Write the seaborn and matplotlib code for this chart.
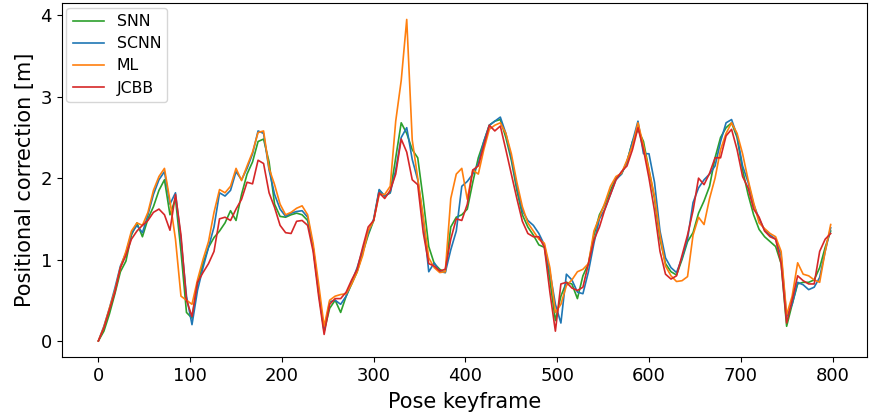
import numpy as np
import pandas as pd
import matplotlib
matplotlib.use("Agg")
import matplotlib.pyplot as plt
from matplotlib.ticker import MultipleLocator
import seaborn as sns

# pose keyframe index (one sample every 6 keyframes)
keyframe = np.arange(0, 799, 6)

snn = [0.00, 0.12, 0.33, 0.58, 0.85, 0.98, 1.30, 1.45, 1.28, 1.50,
       1.65, 1.85, 1.98, 1.55, 1.75, 1.10, 0.35, 0.28, 0.70, 0.95,
       1.15, 1.27, 1.35, 1.45, 1.60, 1.48, 1.80, 2.05, 2.20, 2.45,
       2.48, 2.20, 1.68, 1.53, 1.52, 1.55, 1.57, 1.55, 1.48, 1.15,
       0.60, 0.12, 0.40, 0.50, 0.35, 0.55, 0.70, 0.85, 1.08, 1.30,
       1.48, 1.85, 1.78, 1.82, 2.25, 2.68, 2.55, 2.35, 2.25, 1.74,
       1.16, 0.95, 0.88, 0.84, 1.40, 1.52, 1.55, 1.62, 1.95, 2.25,
       2.45, 2.65, 2.70, 2.72, 2.50, 2.22, 1.85, 1.55, 1.40, 1.30,
       1.18, 1.15, 0.75, 0.25, 0.55, 0.72, 0.70, 0.52, 0.80, 0.95,
       1.30, 1.55, 1.68, 1.85, 2.00, 2.05, 2.20, 2.45, 2.60, 2.45,
       2.10, 1.75, 1.25, 0.95, 0.85, 0.81, 1.00, 1.22, 1.33, 1.57,
       1.72, 1.90, 2.25, 2.50, 2.62, 2.68, 2.50, 2.10, 1.80, 1.55,
       1.37, 1.28, 1.22, 1.16, 0.95, 0.18, 0.45, 0.70, 0.72, 0.72,
       0.75, 0.90, 1.15, 1.35]

scnn = [0.00, 0.18, 0.40, 0.65, 0.92, 1.08, 1.32, 1.42, 1.33, 1.55,
        1.80, 1.98, 2.08, 1.68, 1.82, 1.25, 0.55, 0.20, 0.62, 0.90,
        1.15, 1.40, 1.82, 1.78, 1.85, 2.08, 1.98, 2.12, 2.30, 2.58,
        2.55, 2.10, 1.80, 1.62, 1.53, 1.57, 1.59, 1.60, 1.52, 1.15,
        0.62, 0.12, 0.48, 0.50, 0.45, 0.55, 0.72, 0.90, 1.12, 1.32,
        1.50, 1.86, 1.78, 1.82, 2.10, 2.50, 2.62, 2.23, 1.98, 1.50,
        0.85, 0.96, 0.85, 0.84, 1.12, 1.35, 1.90, 1.96, 2.05, 2.18,
        2.45, 2.65, 2.70, 2.75, 2.55, 2.25, 1.90, 1.60, 1.48, 1.42,
        1.32, 1.18, 0.85, 0.45, 0.22, 0.82, 0.75, 0.60, 0.58, 0.85,
        1.20, 1.50, 1.62, 1.80, 1.98, 2.05, 2.20, 2.45, 2.70, 2.30,
        2.30, 1.95, 1.35, 1.02, 0.90, 0.84, 1.02, 1.25, 1.70, 1.88,
        1.98, 2.05, 2.15, 2.45, 2.68, 2.72, 2.52, 2.15, 1.95, 1.68,
        1.50, 1.36, 1.30, 1.25, 1.05, 0.30, 0.45, 0.72, 0.69, 0.63,
        0.66, 0.78, 1.10, 1.39]

ml = [0.00, 0.17, 0.40, 0.62, 0.90, 1.10, 1.35, 1.45, 1.42, 1.58,
      1.85, 2.02, 2.12, 1.72, 1.25, 0.55, 0.50, 0.45, 0.75, 1.00,
      1.22, 1.58, 1.86, 1.82, 1.90, 2.12, 1.97, 2.15, 2.32, 2.56,
      2.58, 2.12, 1.92, 1.68, 1.55, 1.58, 1.63, 1.66, 1.55, 1.20,
      0.70, 0.18, 0.50, 0.55, 0.57, 0.58, 0.70, 0.85, 1.05, 1.35,
      1.48, 1.80, 1.80, 1.90, 2.70, 3.20, 3.95, 2.47, 2.00, 1.52,
      1.02, 0.90, 0.84, 0.85, 1.75, 2.05, 2.12, 1.74, 2.10, 2.05,
      2.35, 2.60, 2.65, 2.68, 2.55, 2.30, 1.95, 1.65, 1.45, 1.35,
      1.25, 1.20, 0.90, 0.35, 0.45, 0.68, 0.75, 0.85, 0.88, 0.95,
      1.35, 1.52, 1.70, 1.90, 2.02, 2.06, 2.22, 2.40, 2.68, 2.40,
      2.10, 1.78, 1.30, 0.92, 0.80, 0.73, 0.74, 0.79, 1.30, 1.52,
      1.43, 1.75, 2.00, 2.35, 2.55, 2.68, 2.55, 2.30, 1.98, 1.70,
      1.45, 1.38, 1.32, 1.28, 1.10, 0.32, 0.55, 0.96, 0.82, 0.80,
      0.75, 0.72, 1.10, 1.43]

jcbb = [0.00, 0.16, 0.38, 0.60, 0.90, 1.05, 1.25, 1.35, 1.42, 1.48,
        1.58, 1.62, 1.55, 1.36, 1.80, 1.30, 0.50, 0.30, 0.72, 0.84,
        0.95, 1.10, 1.50, 1.52, 1.48, 1.62, 1.74, 1.95, 1.93, 2.22,
        2.18, 1.82, 1.64, 1.42, 1.33, 1.32, 1.47, 1.48, 1.42, 1.10,
        0.55, 0.08, 0.45, 0.52, 0.52, 0.60, 0.75, 0.88, 1.15, 1.40,
        1.48, 1.82, 1.75, 1.85, 2.05, 2.48, 2.32, 1.98, 1.92, 1.33,
        0.95, 0.92, 0.86, 0.88, 1.25, 1.50, 1.48, 1.68, 2.10, 2.15,
        2.40, 2.65, 2.58, 2.64, 2.35, 2.05, 1.75, 1.47, 1.32, 1.28,
        1.28, 1.15, 0.60, 0.12, 0.70, 0.72, 0.65, 0.62, 0.66, 0.95,
        1.24, 1.40, 1.62, 1.80, 1.98, 2.08, 2.15, 2.35, 2.62, 2.35,
        2.00, 1.60, 1.10, 0.82, 0.76, 0.80, 1.05, 1.30, 1.60, 2.00,
        1.92, 2.06, 2.25, 2.25, 2.52, 2.60, 2.35, 2.02, 1.88, 1.62,
        1.52, 1.35, 1.28, 1.25, 0.95, 0.22, 0.50, 0.80, 0.74, 0.70,
        0.70, 1.10, 1.25, 1.32]

methods = ["SNN", "SCNN", "ML", "JCBB"]
colors = {"SNN": "tab:green", "SCNN": "tab:blue", "ML": "tab:orange", "JCBB": "tab:red"}

frames = []
for name, vals in zip(methods, [snn, scnn, ml, jcbb]):
    frames.append(pd.DataFrame({"keyframe": keyframe, "correction": vals, "method": name}))
df = pd.concat(frames, ignore_index=True)

fig, ax = plt.subplots(figsize=(8.85, 4.2), dpi=100)
fig.subplots_adjust(left=0.0698, right=0.98, bottom=0.15, top=0.992)

sns.lineplot(data=df, x="keyframe", y="correction", hue="method", hue_order=methods,
             palette=colors, linewidth=1.2, errorbar=None, ax=ax)

ax.yaxis.set_major_locator(MultipleLocator(1))
ax.set_xlabel("Pose keyframe", fontsize=15, labelpad=5)
ax.set_ylabel("Positional correction [m]", fontsize=15)
ax.tick_params(labelsize=13)
handles, labels = ax.get_legend_handles_labels()
ax.legend(handles, labels, loc="upper left", fontsize=11.3, borderaxespad=0.3,
          labelspacing=0.45)

fig.savefig("out.png", dpi=100)
